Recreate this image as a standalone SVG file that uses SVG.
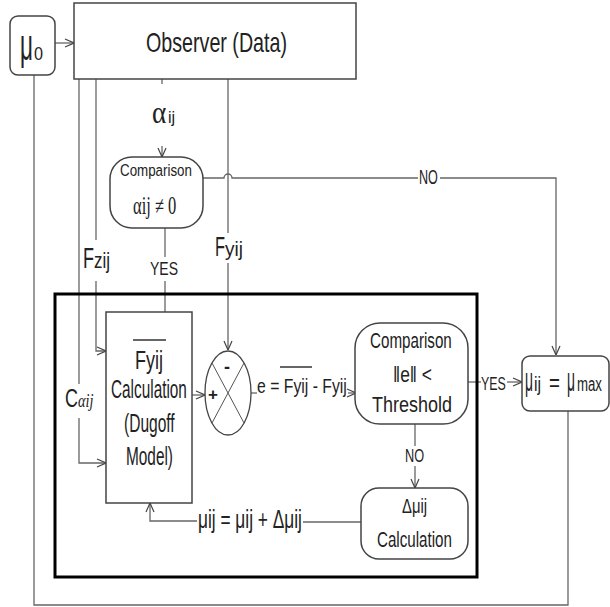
<svg xmlns="http://www.w3.org/2000/svg" width="610" height="607" viewBox="0 0 610 607">
<style>
  text { font-family: "Liberation Sans", Arial, sans-serif; fill: #222; }
  .serif { font-family: "Liberation Serif", "Times New Roman", serif; }
  .box { fill: #fff; stroke: #444; stroke-width: 1.5; }
  .conn { fill: none; stroke: #666; stroke-width: 1.3; }
  .arr { marker-end: url(#ah); }
</style>
<defs>
  <marker id="ah" viewBox="0 0 10 10" refX="10" refY="5" markerWidth="10" markerHeight="10" markerUnits="userSpaceOnUse" orient="auto">
    <path d="M1,1 L10,5 L1,9" fill="none" stroke="#444" stroke-width="1.2"/>
  </marker>
</defs>
<rect width="610" height="607" fill="#fff"/>

<g id="connectors">
  <path class="conn arr" d="M55,43 H74"/>
  <path class="conn" d="M162,68 V84"/>
  <path class="conn arr" d="M162,146 V157"/>
  <path class="conn" d="M79,79 V384"/>
  <path class="conn arr" d="M79,418 V463 H106"/>
  <path class="conn" d="M96,79 V240"/>
  <path class="conn arr" d="M96,281 V351 H106"/>
  <path class="conn" d="M228,79 V233"/>
  <path class="conn arr" d="M228,263 V350"/>
  <path class="conn" d="M165,228 V257"/>
  <path class="conn" d="M165,281 V312"/>
  <path class="conn" d="M203,178 H224 a4,4 0 0 1 8,0 H418"/>
  <path class="conn arr" d="M440,178 H556 V355"/>
  <path class="conn arr" d="M192,395 H205"/>
  <path class="conn" d="M251,393 H257"/>
  <path class="conn arr" d="M348,393 H356"/>
  <path class="conn" d="M468,382 H481"/>
  <path class="conn arr" d="M507,382 H522"/>
  <path class="conn" d="M415,424 V446"/>
  <path class="conn arr" d="M415,466 V488"/>
  <path class="conn" d="M361,522 H303"/>
  <path class="conn arr" d="M197,521 H150 V503"/>
  <path class="conn" d="M568,411 V605 H34 V75"/>
</g>

<g id="outer-frame">
  <rect x="55" y="294" width="422" height="283" fill="none" stroke="#000" stroke-width="3"/>
</g>

<g id="mu0">
  <rect class="box" x="10" y="16" width="45" height="59" rx="8"/>
  <text transform="translate(20,60) scale(0.51,1)" font-size="44">μ</text>
  <text transform="translate(34,60) scale(0.9,1)" font-size="18">0</text>
</g>

<g id="observer">
  <rect class="box" x="74" y="3" width="282" height="76"/>
  <text transform="translate(146,52) scale(0.703,1)" font-size="28">Observer (Data)</text>
</g>

<g id="labels">
  <text class="serif" transform="translate(152,123) scale(0.85,1)" font-size="32">α</text>
  <text x="168" y="123" font-size="16">ij</text>
  <text transform="translate(83,268) scale(0.6,1)" font-size="30">F</text>
  <text transform="translate(94,268) scale(0.77,1)" font-size="22">zij</text>
  <text transform="translate(215,256) scale(0.585,1)" font-size="28">F</text>
  <text transform="translate(225,256) scale(0.95,1)" font-size="20">yij</text>
  <text transform="translate(150,275) scale(0.78,1)" font-size="18">YES</text>
  <text transform="translate(419,184) scale(0.6,1)" font-size="21">NO</text>
  <text transform="translate(65,407) scale(0.69,1)" font-size="26">C</text>
  <text class="serif" transform="translate(78,407) scale(0.75,1)" font-size="19" font-style="italic">αij</text>
  <text transform="translate(257,393) scale(0.752,1)" font-size="21">e = Fyij - Fyij</text>
  <line x1="280" y1="367" x2="312" y2="367" stroke="#333" stroke-width="1.5"/>
  <text transform="translate(481,390) scale(0.69,1)" font-size="18">YES</text>
  <text transform="translate(405,462) scale(0.67,1)" font-size="19">NO</text>
  <text transform="translate(198,528) scale(0.692,1)" font-size="25">μij = μij + Δμij</text>
</g>

<g id="comparison-alpha">
  <rect class="box" x="110" y="157" width="93" height="71" rx="22"/>
  <text transform="translate(120,176) scale(0.786,1)" font-size="17">Comparison</text>
  <text class="serif" transform="translate(133,214) scale(0.66,1)" font-size="25">αij ≠ 0</text>
</g>

<g id="fyij-calculation">
  <rect class="box" x="106" y="312" width="86" height="191"/>
  <line x1="133" y1="340" x2="166" y2="340" stroke="#333" stroke-width="1.5"/>
  <text transform="translate(135,369) scale(0.72,1)" font-size="25">Fyij</text>
  <text transform="translate(111,398) scale(0.614,1)" font-size="25">Calculation</text>
  <text transform="translate(124,432) scale(0.622,1)" font-size="25">(Dugoff</text>
  <text transform="translate(126,465) scale(0.615,1)" font-size="25">Model)</text>
</g>

<g id="summing-junction">
  <ellipse cx="228" cy="393" rx="23" ry="42" fill="#fff" stroke="#444" stroke-width="1.3"/>
  <line x1="212" y1="363" x2="244" y2="423" stroke="#555" stroke-width="1"/>
  <line x1="244" y1="363" x2="212" y2="423" stroke="#555" stroke-width="1"/>
  <text x="227" y="373" font-size="18" font-weight="bold" text-anchor="middle">-</text>
  <text x="213" y="400" font-size="17" font-weight="bold" text-anchor="middle">+</text>
</g>

<g id="comparison-error">
  <rect class="box" x="355" y="323" width="113" height="101" rx="25"/>
  <text transform="translate(370,348) scale(0.69,1)" font-size="22">Comparison</text>
  <text x="393" y="382" font-size="22" textLength="39" lengthAdjust="spacingAndGlyphs">‖e‖ &lt;</text>
  <text transform="translate(372,412) scale(0.818,1)" font-size="22">Threshold</text>
</g>

<g id="mu-max">
  <rect class="box" x="522" y="356" width="87" height="55" rx="8"/>
  <text transform="translate(525,391) scale(0.41,1)" font-size="34">μ</text>
  <text transform="translate(534,391) scale(0.79,1)" font-size="20">ij</text>
  <text transform="translate(549,391) scale(0.72,1)" font-size="26">=</text>
  <text transform="translate(567,391) scale(0.41,1)" font-size="34">μ</text>
  <text transform="translate(577,391) scale(0.63,1)" font-size="21">max</text>
</g>

<g id="delta-mu-calculation">
  <rect class="box" x="361" y="488" width="107" height="71" rx="18"/>
  <text transform="translate(402,513) scale(0.706,1)" font-size="21">Δμij</text>
  <text transform="translate(377,547) scale(0.689,1)" font-size="22">Calculation</text>
</g>
</svg>
